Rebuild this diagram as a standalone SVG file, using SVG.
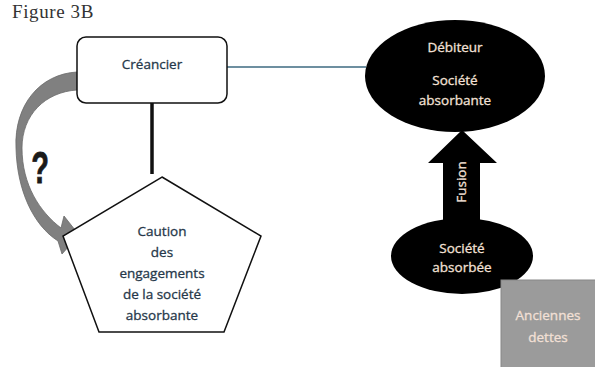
<svg xmlns="http://www.w3.org/2000/svg" width="595" height="367" viewBox="0 0 595 367">
<style>
.t{font-family:"Open Sans","Liberation Sans",sans-serif;font-size:13.5px;text-anchor:middle;stroke-width:0.3}
.dk{fill:#26384a;stroke:#26384a}
.lt{fill:#f3e0d6;stroke:#f3e0d6}
</style>
<rect width="595" height="367" fill="#ffffff"/>
<text x="12" y="18" font-family="Liberation Serif, serif" font-size="19" fill="#333333" letter-spacing="0.6">Figure 3B</text>
<g id="connectors">
<line x1="227" y1="67" x2="366" y2="67" stroke="#6d8fa0" stroke-width="2"/>
<line x1="152" y1="103" x2="152" y2="174" stroke="#111111" stroke-width="3.5"/>
<path d="M77,72 C40,74 14,105 16,148 C17,190 33,225 58,241 L62,254 L79,235 L64,216 L61,228 C40,212 22,185 22,148 C22,115 45,92 77,90 Z" fill="#808080" stroke="#6a6a6a" stroke-width="0.8"/>
<text transform="translate(40,183) scale(0.66,1)" font-family="Liberation Sans, sans-serif" font-size="44" font-weight="bold" fill="#1a1a1a" stroke="#1a1a1a" stroke-width="0.8" text-anchor="middle">?</text>
<path d="M462,130 L497,163 L480,163 L480,232 L443,232 L443,163 L428,163 Z" fill="#000000"/>
<text class="t lt" transform="translate(466,182) rotate(-90)">Fusion</text>
</g>
<g id="creancier">
<rect x="77" y="37" width="150" height="66" rx="9" fill="#ffffff" stroke="#111111" stroke-width="1.5"/>
<text class="t dk" x="152" y="69">Créancier</text>
</g>
<g id="caution">
<polygon points="162,177 261,236 224,332 99,332 63,236" fill="#ffffff" stroke="#111111" stroke-width="1.5"/>
<text class="t dk" x="162" y="236">Caution</text>
<text class="t dk" x="162" y="257">des</text>
<text class="t dk" x="162" y="278">engagements</text>
<text class="t dk" x="162" y="299">de la société</text>
<text class="t dk" x="162" y="320">absorbante</text>
</g>
<g id="debiteur">
<ellipse cx="455" cy="76" rx="90" ry="56" fill="#000000"/>
<text class="t lt" x="455" y="52">Débiteur</text>
<text class="t lt" x="455" y="85">Société</text>
<text class="t lt" x="455" y="105">absorbante</text>
</g>
<g id="absorbee">
<ellipse cx="462" cy="256" rx="71" ry="38" fill="#000000"/>
<text class="t lt" x="462" y="253">Société</text>
<text class="t lt" x="462" y="272">absorbée</text>
</g>
<g id="anciennes">
<rect x="501" y="280" width="95" height="88" fill="#9b9b9b" stroke="#888888" stroke-width="1"/>
<text class="t lt" x="548" y="320">Anciennes</text>
<text class="t lt" x="548" y="342">dettes</text>
</g>
</svg>
